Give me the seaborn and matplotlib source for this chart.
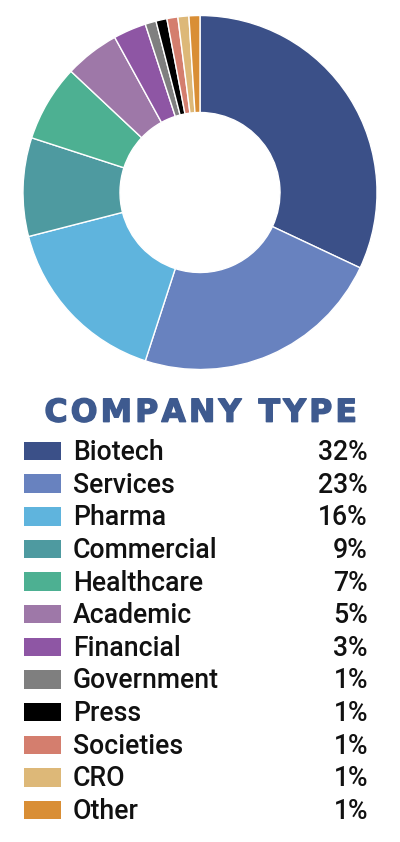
import matplotlib
matplotlib.use("Agg")
import matplotlib.pyplot as plt
import matplotlib.patheffects as pe
import seaborn as sns

categories = ["Biotech", "Services", "Pharma", "Commercial", "Healthcare", "Academic",
              "Financial", "Government", "Press", "Societies", "CRO", "Other"]
values = [32, 23, 16, 9, 7, 5, 3, 1, 1, 1, 1, 1]
labels_pct = [f"{v}%" for v in values]
colors = ["#3B5088", "#6882BF", "#5FB4DD", "#4E9AA0", "#4DB092", "#9E78A8",
          "#8E56A4", "#7F7F7F", "#000000", "#D47E6E", "#DDB878", "#D98E35"]
title = "COMPANY TYPE"

sns.set_theme(style="white")
plt.rcParams["font.family"] = ["Roboto", "DejaVu Sans"]

fig = plt.figure(figsize=(4.0, 8.42), dpi=100)
fig.patch.set_facecolor("white")

# Donut
W, H = 400, 842
cx, cy, R = 200, 192.5, 177
ax = fig.add_axes([(cx - R) / W, (H - cy - R) / H, 2 * R / W, 2 * R / H])
ax.pie(values, colors=sns.color_palette(colors), startangle=90, counterclock=False,
       radius=1.0, wedgeprops=dict(width=0.548, edgecolor="white", linewidth=1.0))
ax.set_xlim(-1, 1)
ax.set_ylim(-1, 1)
ax.axis("off")

# Legend / title overlay in pixel coordinates
lx = fig.add_axes([0, 0, 1, 1])
lx.set_xlim(0, W)
lx.set_ylim(H, 0)
lx.axis("off")

spaced_title = "\u200a".join(title)
lx.text(200.5, 421.7, spaced_title, ha="center", va="baseline", fontsize=22.7,
        fontweight="bold", color="#3E5A8F", family=["DejaVu Sans"],
        path_effects=[pe.withStroke(linewidth=1.0, foreground="#3E5A8F")])

row0, step = 451, 32.64
ys = [row0 + i * step for i in range(len(categories))]
lx.barh(ys, [37] * len(ys), left=24, height=18.5, color=colors, linewidth=0)
for y, cat, pct in zip(ys, categories, labels_pct):
    lx.text(72.7, y + 9, cat, ha="left", va="baseline", fontsize=19.2,
            fontweight="medium", color="#111111")
    lx.text(368, y + 9, pct, ha="right", va="baseline", fontsize=19.2,
            fontweight="medium", color="#111111")

fig.savefig("out.png", dpi=100, facecolor="white")
